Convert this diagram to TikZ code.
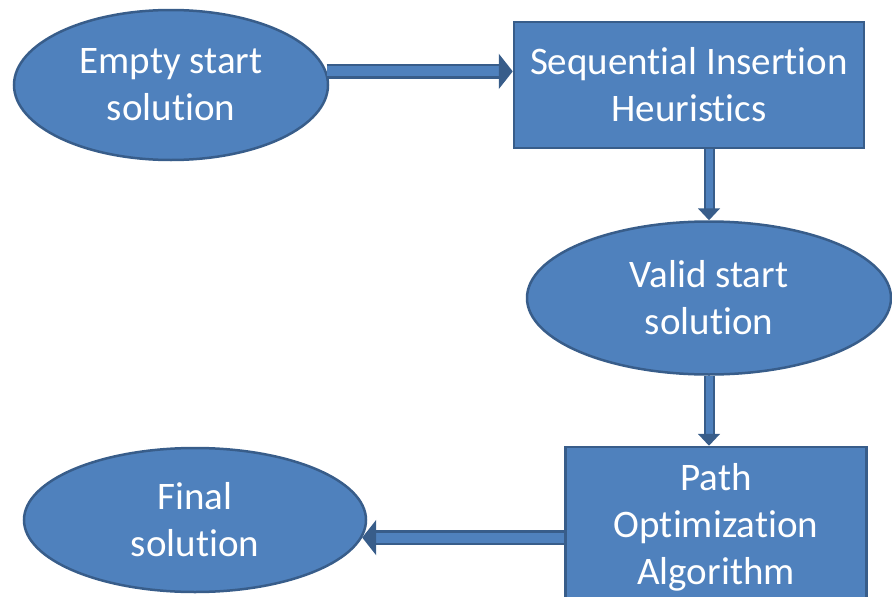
\documentclass[tikz,border=0pt]{standalone}
\usepackage{fontspec}
\setmainfont{Carlito}[Ligatures=NoCommon]
\usetikzlibrary{shapes,arrows.meta,positioning}

\definecolor{boxblue}{RGB}{79,129,189}
\definecolor{edgeblue}{RGB}{56,93,138}

\tikzset{
	blob/.style={ellipse,draw=edgeblue,fill=boxblue,line width=2.5pt,
		text=white,align=center,inner sep=0pt,
		font=\fontsize{39}{47}\selectfont},
	block/.style={rectangle,draw=edgeblue,fill=boxblue,line width=2.5pt,
		text=white,align=center,inner sep=0pt,
		font=\fontsize{39}{47}\selectfont},
	widearrow/.style={draw=edgeblue,line width=2.5pt,double=boxblue,
		double distance=10pt,-{Triangle[length=14pt,width=35pt]}},
	thinarrow/.style={draw=edgeblue,line width=2pt,double=boxblue,
		double distance=7pt,-{Triangle[length=12pt,width=22pt]}}
}

\begin{document}
\begin{tikzpicture}[x=1pt,y=-1pt]

	\useasboundingbox (0,0) rectangle (892,597);

	\node[blob,minimum width=314pt,minimum height=150pt] (empty) at (171,85) {Empty start\\solution};
	\node[block,minimum width=350pt,minimum height=126pt] (seq) at (689,85) {Sequential Insertion\\Heuristics};
	\node[blob,minimum width=364pt,minimum height=153pt] (valid) at (709,298) {Valid start\\solution};
	\node[block,minimum width=301pt,minimum height=160pt] (path) at (716,527) {Path\\Optimization\\Algorithm};
	\node[blob,minimum width=342pt,minimum height=144pt] (final) at (195,520) {Final\\solution};

	\draw[widearrow] (empty.5) -- (empty.5 -| seq.west);
	\draw[thinarrow] (seq.south -| valid.north) -- (valid.north);
	\draw[thinarrow] (valid.south) -- (valid.south |- path.north);
	\draw[widearrow] (final.-6 -| path.west) -- (final.-6);

\end{tikzpicture}
\end{document}
